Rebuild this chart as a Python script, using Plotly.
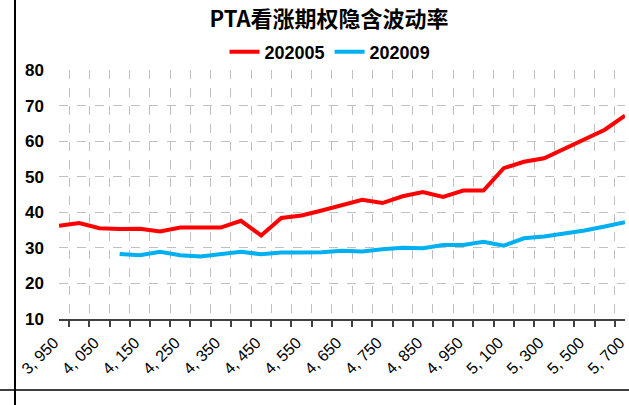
import plotly.graph_objects as go

strikes = [3950, 4000, 4050, 4100, 4150, 4200, 4250, 4300, 4350, 4400, 4450,
           4500, 4550, 4600, 4650, 4700, 4750, 4800, 4850, 4900, 4950, 5000,
           5100, 5200, 5300, 5400, 5500, 5600, 5700]
iv_202005 = [36.2, 37.0, 35.5, 35.3, 35.4, 34.6, 35.7, 35.7, 35.7, 37.6, 33.5,
             38.4, 39.1, 40.5, 42.1, 43.5, 42.6, 44.5, 45.7, 44.3, 46.1, 46.1,
             52.4, 54.2, 55.2, 57.8, 60.4, 63.2, 67.2]
iv_202009 = [None, None, None, 28.3, 27.9, 28.9, 27.9, 27.6, 28.2, 28.9, 28.2,
             28.7, 28.7, 28.8, 29.2, 29.0, 29.6, 30.0, 29.9, 30.8, 30.8, 31.7,
             30.6, 32.7, 33.2, 34.0, 34.9, 36.0, 37.2]
title_text = "PTA看涨期权隐含波动率"
series_names = ["202005", "202009"]

cats = [str(s) for s in strikes]
tick_text = [(f"{s // 1000}, {s % 1000:03d}" if i % 2 == 0 else "") for i, s in enumerate(strikes)]

FONT = "Arial, 'Liberation Sans', 'Noto Sans CJK SC', sans-serif"

fig = go.Figure()
fig.add_trace(go.Scatter(x=cats, y=iv_202005, mode="lines", name=series_names[0],
                         line=dict(color="#ff0000", width=4)))
fig.add_trace(go.Scatter(x=cats, y=iv_202009, mode="lines", name=series_names[1],
                         line=dict(color="#00b0f0", width=4)))

W, H = 629, 405
L, R, T, B = 59, 4, 70, 86
pw, ph = W - L - R, H - T - B


def px_x(x):
    return (x - L) / pw


def px_y(y):
    return (H - B - y) / ph


fig.update_layout(
    width=W, height=H,
    margin=dict(l=L, r=R, t=T, b=B, autoexpand=False),
    paper_bgcolor="white", plot_bgcolor="white",
    font=dict(family=FONT, color="black"),
    title=dict(text="<b>" + title_text + "</b>", x=px_x(329), xanchor="center", xref="paper",
               y=1 - 19 / H, yanchor="middle",
               font=dict(size=22, family="'Noto Sans CJK SC', Arial, sans-serif", color="black")),
    showlegend=True,
    legend=dict(orientation="h", x=px_x(330), xanchor="center", y=px_y(52), yanchor="middle",
                font=dict(size=18, family=FONT, color="black", weight="bold"),
                bgcolor="rgba(0,0,0,0)", itemwidth=30, tracegroupgap=0),
    xaxis=dict(type="category", categoryorder="array", categoryarray=cats,
               tickmode="array", tickvals=cats, ticktext=tick_text,
               tickson="boundaries", ticks="outside", ticklen=6, tickwidth=1.5,
               tickcolor="#404040", tickangle=-45, automargin=False,
               ticklabelshift=-5, ticklabelstandoff=6,
               tickfont=dict(size=16, family=FONT, color="black"),
               showgrid=True, gridcolor="#c0c0c0", griddash="dash", gridwidth=1,
               showline=True, linecolor="#404040", linewidth=2,
               zeroline=False, fixedrange=True),
    yaxis=dict(range=[10, 80], dtick=10, tick0=10, automargin=False,
               tickfont=dict(size=17, family=FONT, color="black", weight="bold"),
               ticks="", ticklabelstandoff=14,
               showgrid=True, gridcolor="#c0c0c0", griddash="dash", gridwidth=1,
               showline=False, zeroline=False, fixedrange=True),
    shapes=[
        dict(type="line", xref="paper", yref="paper",
             x0=px_x(0), x1=px_x(W), y0=px_y(390), y1=px_y(390),
             line=dict(color="#404040", width=2)),
        dict(type="line", xref="paper", yref="paper",
             x0=px_x(15), x1=px_x(15), y0=px_y(0), y1=px_y(H),
             line=dict(color="black", width=2)),
    ],
)

fig.write_html("out.html", config={"displayModeBar": False},
               post_script="document.body.style.margin='0';document.body.style.overflow='hidden';")
